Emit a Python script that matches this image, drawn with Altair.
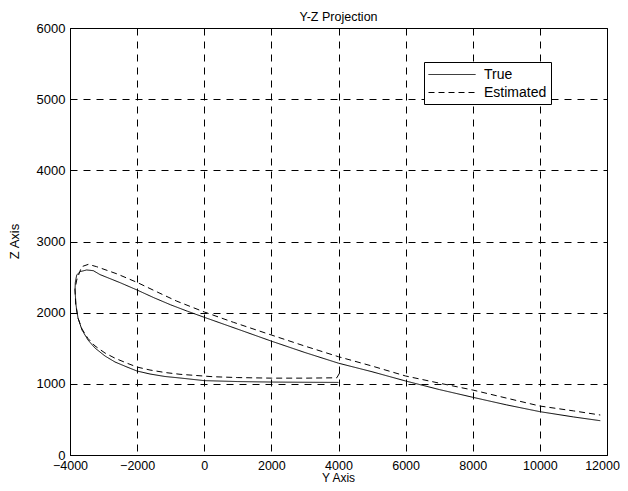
import altair as alt
import pandas as pd

# True trajectory (Y, Z)
true_y = [4000, 3000, 2000, 1000, 0, -722, -1169, -1616, -2003, -2301, -2659,
          -2957, -3255, -3464, -3642, -3762, -3821, -3851, -3840, -3800, -3702,
          -3503, -3305, -3106, -2500, -2000, -1500, -1000, -500, 0, 1000, 2000,
          3000, 4000, 5000, 6000, 7000, 8000, 9000, 10000, 11000, 11800]
true_z = [1020, 1022, 1025, 1032, 1045, 1082, 1103, 1138, 1180, 1236, 1307,
          1391, 1503, 1616, 1756, 1925, 2108, 2318, 2430, 2529, 2576,
          2600, 2590, 2535, 2420, 2318, 2210, 2110, 2020, 1935, 1768, 1600,
          1440, 1290, 1170, 1040, 920, 811, 705, 609, 535, 482]

# Estimated trajectory (Y, Z)
est_y = [4030, 3950, 3000, 2000, 1000, 260, -722, -1169, -1616, -2003, -2301,
         -2659, -2957, -3255, -3464, -3642, -3762, -3830, -3850, -3800, -3652,
         -3454, -3205, -2600, -2000, -1400, -820, 0, 866, 2000, 3000, 4000,
         5000, 6000, 7000, 8000, 9000, 10000, 11000, 11800]
est_z = [1150, 1085, 1080, 1080, 1088, 1100, 1134, 1159, 1194, 1236, 1290,
         1360, 1433, 1532, 1637, 1770, 1925, 2110, 2330, 2459, 2646,
         2679, 2646, 2545, 2425, 2290, 2162, 2010, 1865, 1686, 1530, 1381,
         1250, 1110, 1010, 913, 800, 688, 620, 562]

series_names = ["True", "Estimated"]
x_ticks = [-4000, -2000, 0, 2000, 4000, 6000, 8000, 10000, 12000]
y_ticks = [0, 1000, 2000, 3000, 4000, 5000, 6000]

rows = []
for i, (a, b) in enumerate(zip(true_y, true_z)):
    rows.append({"Y": a, "Z": b, "series": "True", "idx": i})
for i, (a, b) in enumerate(zip(est_y, est_z)):
    rows.append({"Y": a, "Z": b, "series": "Estimated", "idx": i})
df = pd.DataFrame(rows)

FONT = "Liberation Sans"

chart = alt.Chart(df).mark_line(strokeWidth=1, color="black").encode(
    x=alt.X("Y:Q", scale=alt.Scale(domain=[-4000, 12000], nice=False, zero=False),
            axis=alt.Axis(values=x_ticks, title="Y Axis", titleX=268, titleY=22,
                          titleBaseline="middle", titleFontSize=12, labelPadding=4,
                          labelFontSize=12.5, labelFlush=False, format="d",
                          labelOffset={"condition": {"test": "datum.value == 12000",
                                                     "value": -5},
                                       "value": 0})),
    y=alt.Y("Z:Q", scale=alt.Scale(domain=[0, 6000], nice=False),
            axis=alt.Axis(values=y_ticks, title="Z Axis", titleX=-56, titleY=213,
                          titleAngle=-90, titleBaseline="middle", titleAlign="center",
                          labelPadding=5, format="d")),
    strokeDash=alt.StrokeDash(
        "series:N",
        scale=alt.Scale(domain=series_names, range=[[1, 0], [6, 4]]),
        legend=alt.Legend(
            title=None, orient="none", legendX=354, legendY=34,
            strokeColor="black", fillColor="white", padding=4,
            symbolType="M-1,0H4.875", symbolSize=256, symbolStrokeWidth=1,
            symbolStrokeColor="black", labelOffset=39, rowPadding=2,
            labelFont=FONT, labelFontSize=14, labelColor="black",
            cornerRadius=0,
        ),
    ),
    order="idx:Q",
).properties(
    width=537,
    height=427,
    autosize="none",
    padding={"left": 62, "top": 20, "right": 13, "bottom": 28},
    title=alt.TitleParams("Y-Z Projection", font=FONT, fontSize=12.5,
                          fontWeight="normal", color="black", offset=-1,
                          anchor="middle", frame="group"),
).configure_view(
    stroke="black", strokeWidth=1
).configure_axis(
    grid=True, gridColor="black", gridDash=[7, 6], gridWidth=1, gridOpacity=1,
    domainColor="black", domainWidth=1, tickSize=0,
    labelFont=FONT, labelFontSize=13, labelColor="black",
    titleFont=FONT, titleFontSize=13, titleFontWeight="normal", titleColor="black",
)

chart.save("out.html", embed_options={"renderer": "svg", "actions": False})
